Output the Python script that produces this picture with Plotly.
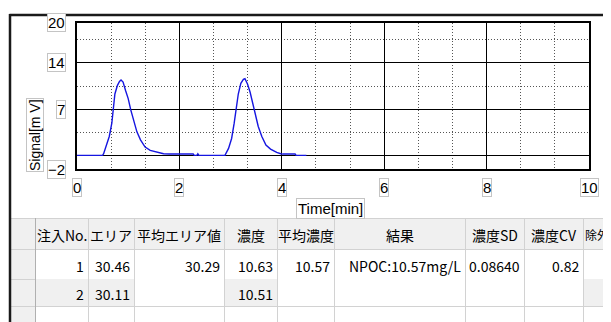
import plotly.graph_objects as go

OFF = 8  # page body margin compensation
W, H = 611 - OFF, 322 - OFF

# ---------------- data ----------------
t_min = [0.00, 0.50, 0.52, 0.58, 0.63, 0.68, 0.71, 0.74, 0.79, 0.83, 0.86, 0.90, 0.95,
         1.00, 1.05, 1.10, 1.17, 1.24, 1.33, 1.43, 1.56, 1.69, 1.80, 2.27, 2.29, 2.34,
         2.36, 2.38, 2.40, 2.89, 2.96, 3.02, 3.07, 3.11, 3.15, 3.20, 3.25, 3.28, 3.33,
         3.38, 3.43, 3.49, 3.54, 3.61, 3.69, 3.78, 3.90, 3.98, 4.02, 4.26, 4.28, 4.48]
signal_mv = [0.05, 0.05, 0.3, 1.6, 2.9, 4.9, 7.8, 9.3, 10.6, 11.2, 11.4, 11.1, 9.8,
             8.6, 6.9, 5.4, 3.6, 2.4, 1.3, 0.8, 0.5, 0.3, 0.25, 0.25, 0.05, 0.05,
             0.3, 0.05, 0.05, 0.05, 1.1, 2.6, 4.9, 7.3, 9.3, 10.9, 11.5, 11.6, 10.8,
             9.6, 8.1, 6.1, 4.4, 2.9, 1.6, 1.0, 0.5, 0.3, 0.25, 0.25, 0.05, 0.05]

x_ticks = [0, 2, 4, 6, 8, 10]
x_tick_labels = ["0", "2", "4", "6", "8", "10"]
y_major = [0, 7, 14]
y_label_vals = [20, 14, 7, -2]
y_label_text = ["20", "14", "7", "\u22122"]
x_minor = [2/3, 4/3, 8/3, 10/3, 14/3, 16/3, 20/3, 22/3, 26/3, 28/3]
y_minor = [3.5, 10.5, 17.5]

x_title = "Time[min]"
y_title = "Signal[m V]"

headers = ["注入No.", "エリア", "平均エリア値", "濃度", "平均濃度", "結果", "濃度SD", "濃度CV", "除外"]
inj_no = ["1", "2"]
area = ["30.46", "30.11"]
mean_area = ["30.29"]
conc = ["10.63", "10.51"]
mean_conc = ["10.57"]
result = ["NPOC:10.57mg/L"]
conc_sd = ["0.08640"]
conc_cv = ["0.82"]

# ---------------- helpers ----------------
def px(x):
    return (x - OFF) / W

def py(y):
    return 1 - (y - OFF) / H

fig = go.Figure()
fig.add_trace(go.Scatter(x=t_min, y=signal_mv, mode="lines",
                         line=dict(color="#1515e0", width=1.4), hoverinfo="skip"))

fig.update_layout(
    width=W, height=H, margin=dict(l=0, r=0, t=0, b=0),
    paper_bgcolor="white", plot_bgcolor="white", showlegend=False,
    font=dict(family="Liberation Sans, Arial, sans-serif", size=14, color="black"),
)
fig.update_xaxes(
    domain=[px(77), px(589)], range=[0, 10], tickvals=[2, 4, 6, 8],
    showticklabels=False, ticks="", showgrid=True, gridcolor="black", gridwidth=1.3,
    zeroline=False, showline=True, mirror=True, linecolor="black", linewidth=1.5,
    minor=dict(tickvals=x_minor, showgrid=True, gridcolor="#555555", griddash="1px,2px",
               gridwidth=1, ticks=""),
)
fig.update_yaxes(
    domain=[py(169), py(23)], range=[-2, 20], tickvals=y_major,
    showticklabels=False, ticks="", showgrid=True, gridcolor="black", gridwidth=1.3,
    zeroline=False, showline=True, mirror=True, linecolor="black", linewidth=1.5,
    minor=dict(tickvals=y_minor, showgrid=True, gridcolor="#555555", griddash="1px,2px",
               gridwidth=1, ticks=""),
)

annos = []
box = dict(bordercolor="#c4c4c4", borderwidth=1, borderpad=0, bgcolor="white")
for v, s in zip(x_ticks, x_tick_labels):
    annos.append(dict(x=v, xref="x", y=py(187), yref="paper", text=s, showarrow=False,
                      xanchor="center", yanchor="middle", font=dict(size=15), **box))
for v, s in zip(y_label_vals, y_label_text):
    annos.append(dict(x=px(66), xref="paper", y=v, yref="y", text=s, showarrow=False,
                      xanchor="right", yanchor="middle", font=dict(size=15), **box))
annos.append(dict(x=px(25.5), y=py(98.5), xref="paper", yref="paper", text=y_title,
                  textangle=-90, showarrow=False, font=dict(size=14), **box))
annos.append(dict(x=px(330), y=py(208.5), xref="paper", yref="paper", text=x_title,
                  showarrow=False, font=dict(size=15), bordercolor="#c4c4c4",
                  borderwidth=1, borderpad=1, bgcolor="white"))

# ---------------- table ----------------
shapes = []
col_edges = [10, 35, 88, 134, 224, 277, 334, 465, 524, 583, 640]
gray = "#f0f0f0"
gridc = "#d2d2d2"

def rect(x0, y0, x1, y1, color):
    shapes.append(dict(type="rect", xref="paper", yref="paper", x0=px(x0), x1=px(x1),
                       y0=py(y1), y1=py(y0), fillcolor=color, line=dict(width=0),
                       layer="below"))

def hline(y, x0, x1, color=gridc, w=1):
    shapes.append(dict(type="line", xref="paper", yref="paper", x0=px(x0), x1=px(x1),
                       y0=py(y), y1=py(y), line=dict(color=color, width=w)))

def vline(x, y0, y1, color=gridc, w=1):
    shapes.append(dict(type="line", xref="paper", yref="paper", x0=px(x), x1=px(x),
                       y0=py(y0), y1=py(y1), line=dict(color=color, width=w)))

# gray fills
rect(10, 218, 35, 330, gray)
rect(35, 218, 640, 249, gray)
for ci in [1, 2, 4, 9]:
    rect(col_edges[ci], 279, col_edges[ci + 1], 306, gray)

# grid lines
hline(218.5, 10, 640)
hline(249.5, 10, 640)
hline(306.5, 10, 640)
hline(279.5, 10, 35)
for x in col_edges[1:-1]:
    vline(x + 0.5, 218, 330)
vline(35.5, 218, 330, color="#b0b0b0")

# window border
hline(15, 9.5, 640, color="#1a1a1a", w=2.5)
vline(10, 14, 330, color="#1a1a1a", w=2.5)

tfont = dict(family="Noto Sans CJK JP", size=14, color="black")

def cell_text(text, ci, y, align, size=14):
    x0, x1 = col_edges[ci], col_edges[ci + 1]
    if align == "center":
        x, xa = (x0 + x1) / 2, "center"
    elif align == "left":
        x, xa = x0 + 1, "left"
    else:
        x, xa = x1 - 3, "right"
    annos.append(dict(x=px(x), y=py(y), xref="paper", yref="paper", text=text,
                      showarrow=False, xanchor=xa, yanchor="middle",
                      font=dict(tfont, size=size), borderpad=0))

header_y, row1_y, row2_y = 235, 266, 294
for i, h in enumerate(headers):
    if i == len(headers) - 1:
        cell_text(h, i + 1, header_y, "left", size=12)
    else:
        cell_text(h, i + 1, header_y, "center")

row_cols = [inj_no, area, mean_area, conc, mean_conc, result, conc_sd, conc_cv]
for ci, col in enumerate(row_cols):
    for ri, val in enumerate(col):
        cell_text(val, ci + 1, [row1_y, row2_y][ri], "right")

fig.update_layout(shapes=shapes, annotations=annos)
fig.write_html("out.html")
